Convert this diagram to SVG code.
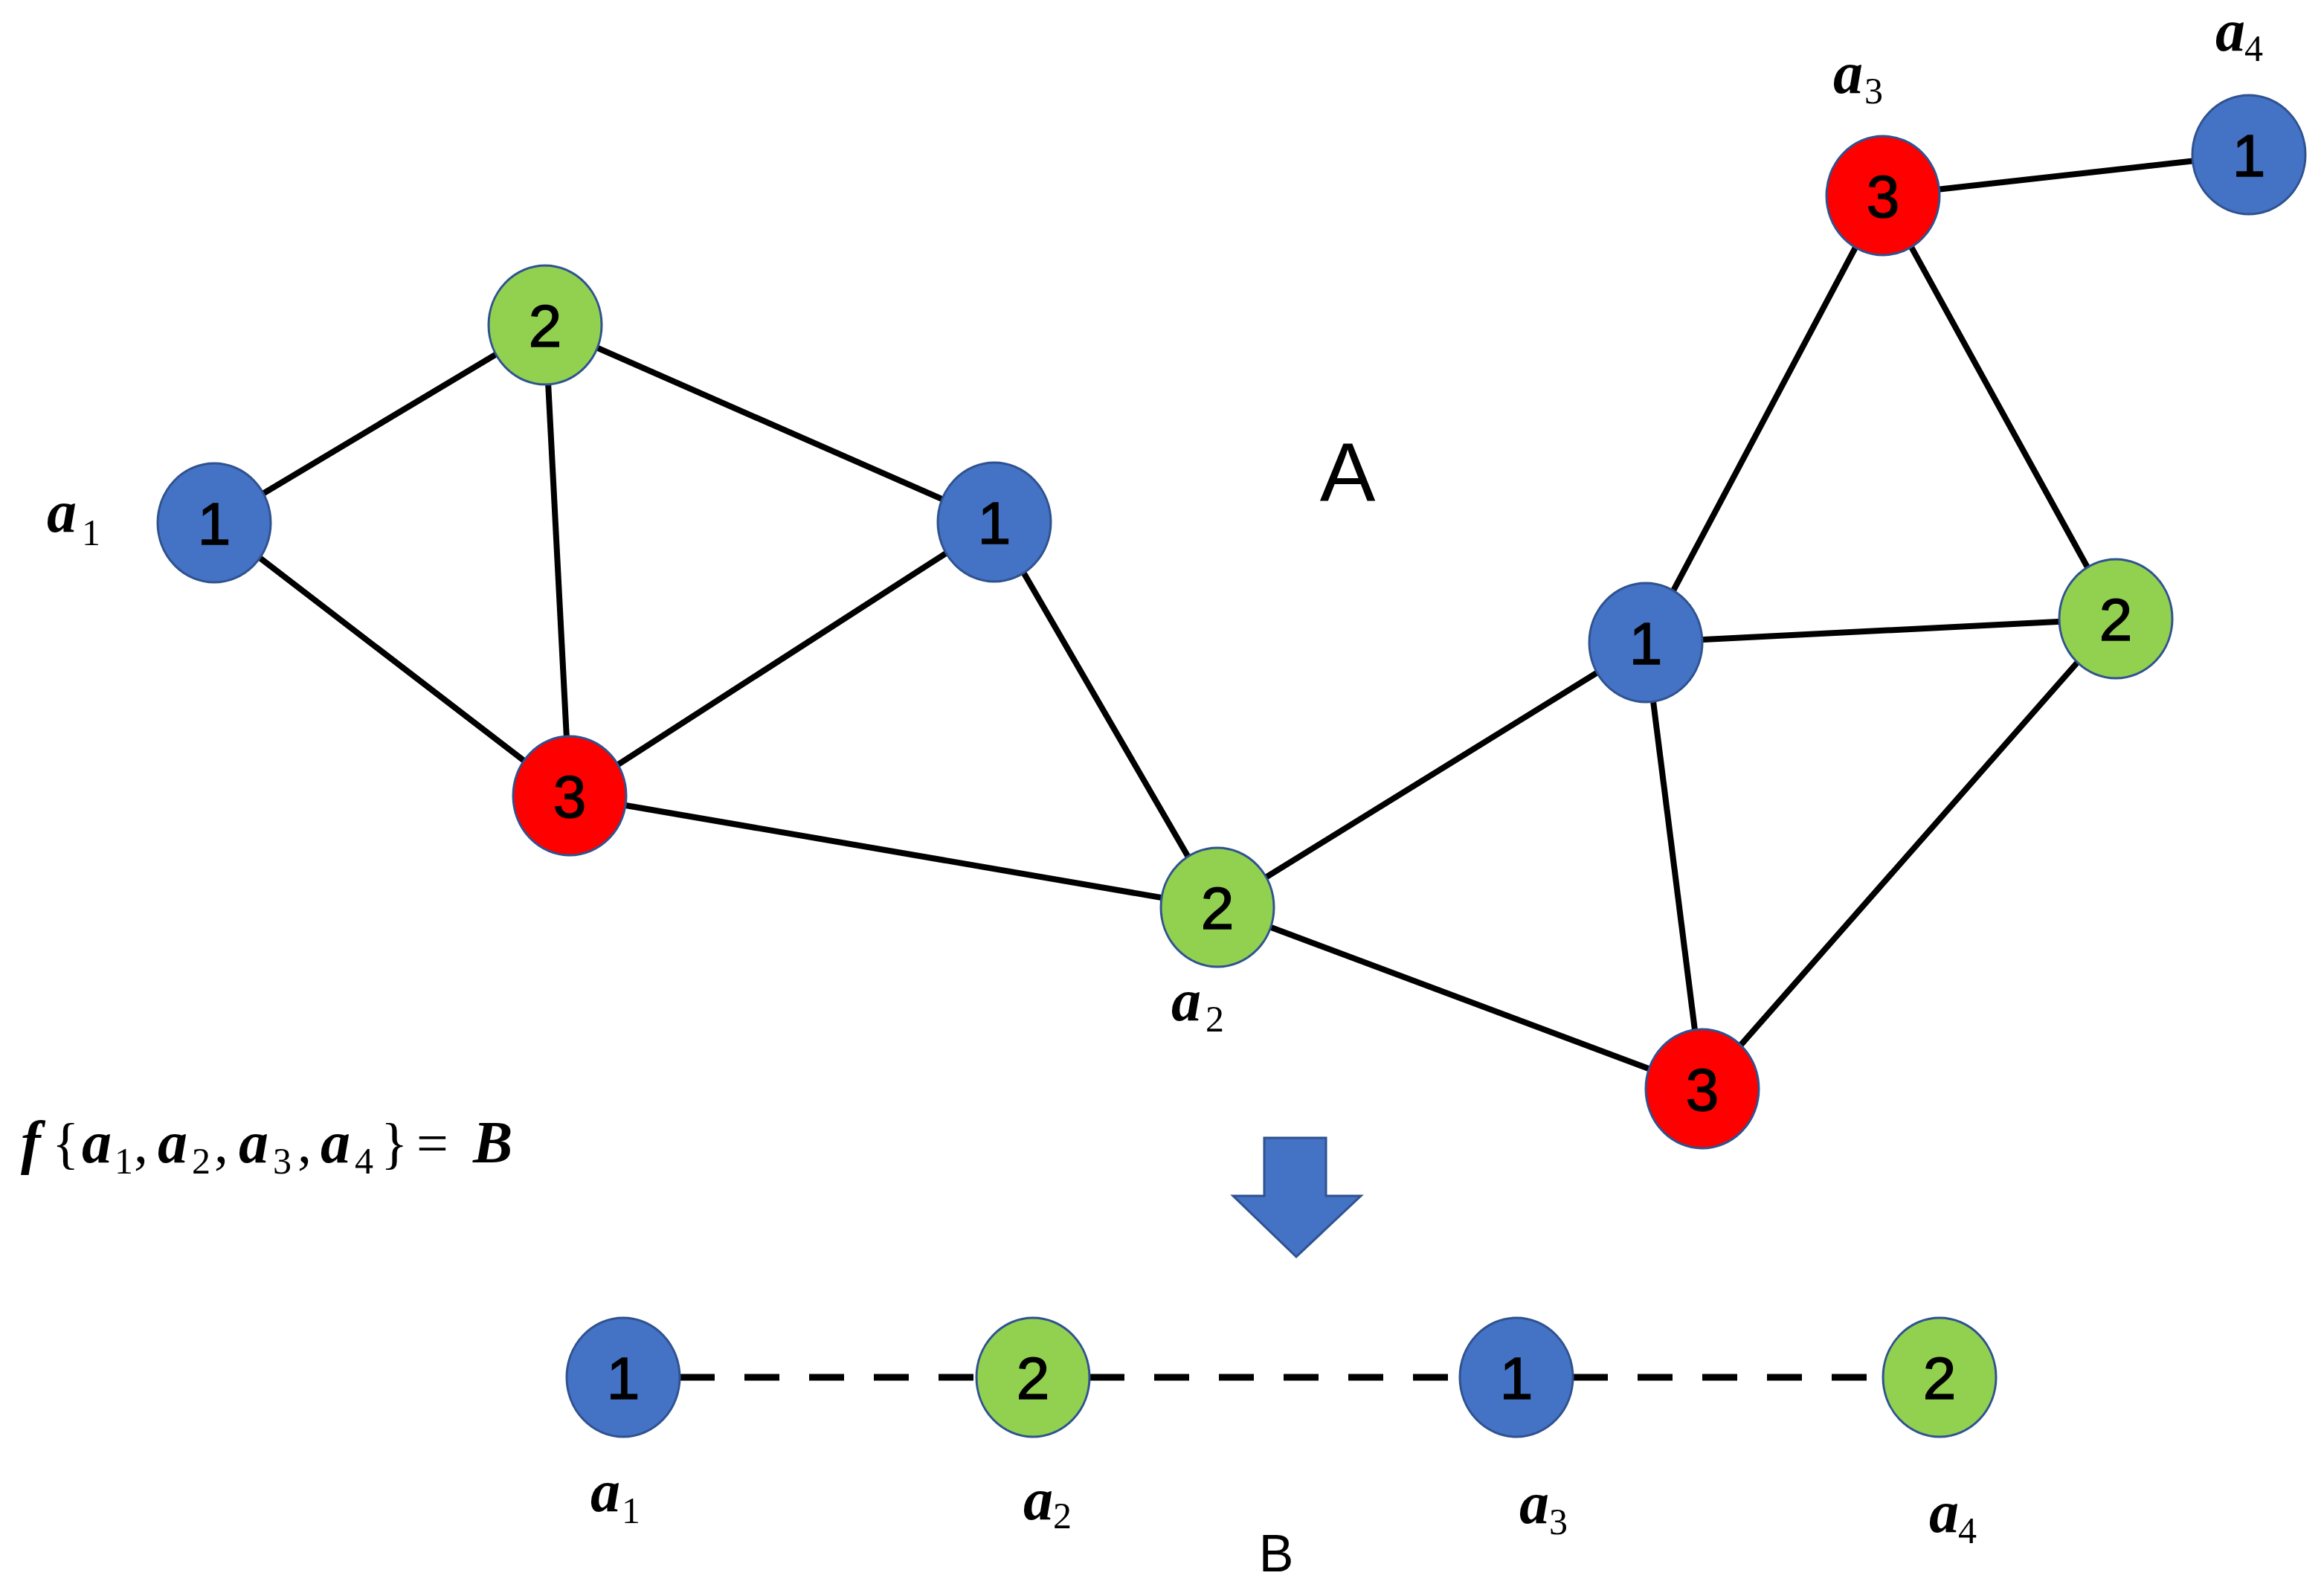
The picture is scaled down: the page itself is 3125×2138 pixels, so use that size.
<svg xmlns="http://www.w3.org/2000/svg" width="3125" height="2138" viewBox="0 0 3125 2138">
<style>
.n{stroke:#2F528F;stroke-width:3}
.blue{fill:#4472C4}
.green{fill:#92D050}
.red{fill:#FF0000}
.num{font-family:"Liberation Sans",Arial,sans-serif;font-size:80px;fill:#000;stroke:#000;stroke-width:1.5;text-anchor:middle}
.e{stroke:#000;stroke-width:8;fill:none}
.d{stroke:#000;stroke-width:9;fill:none;stroke-dasharray:47 40}
.lab{font-family:"Liberation Serif","Times New Roman",serif;fill:#000}
.it{font-style:italic;font-weight:bold;font-size:80px}
.sub{font-size:50px}
.big{font-family:"Liberation Sans",Arial,sans-serif;fill:#000;text-anchor:middle}
</style>
<rect width="3125" height="2138" fill="#fff"/>
<g id="connectors">
<line class="e" x1="288" y1="703" x2="733" y2="437"/>
<line class="e" x1="288" y1="703" x2="766" y2="1070"/>
<line class="e" x1="733" y1="437" x2="766" y2="1070"/>
<line class="e" x1="733" y1="437" x2="1337" y2="702"/>
<line class="e" x1="766" y1="1070" x2="1337" y2="702"/>
<line class="e" x1="1337" y1="702" x2="1637" y2="1220"/>
<line class="e" x1="766" y1="1070" x2="1637" y2="1220"/>
<line class="e" x1="1637" y1="1220" x2="2213" y2="864"/>
<line class="e" x1="1637" y1="1220" x2="2289" y2="1464"/>
<line class="e" x1="2213" y1="864" x2="2532" y2="263"/>
<line class="e" x1="2213" y1="864" x2="2845" y2="832"/>
<line class="e" x1="2213" y1="864" x2="2289" y2="1464"/>
<line class="e" x1="2532" y1="263" x2="2845" y2="832"/>
<line class="e" x1="2532" y1="263" x2="3024" y2="208"/>
<line class="e" x1="2845" y1="832" x2="2289" y2="1464"/>
<line class="d" x1="914" y1="1852" x2="1313" y2="1852"/>
<line class="d" x1="1465" y1="1852" x2="1963" y2="1852"/>
<line class="d" x1="2115" y1="1852" x2="2532" y2="1852"/>
</g>
<g id="node-a1"><ellipse class="n blue" cx="288" cy="703" rx="76" ry="80"/><text class="num" x="288" y="732">1</text></g>
<g id="node-g1"><ellipse class="n green" cx="733" cy="437" rx="76" ry="80"/><text class="num" x="733" y="466">2</text></g>
<g id="node-r1"><ellipse class="n red" cx="766" cy="1070" rx="76" ry="80"/><text class="num" x="766" y="1099">3</text></g>
<g id="node-b2"><ellipse class="n blue" cx="1337" cy="702" rx="76" ry="80"/><text class="num" x="1337" y="731">1</text></g>
<g id="node-a2"><ellipse class="n green" cx="1637" cy="1220" rx="76" ry="80"/><text class="num" x="1637" y="1249">2</text></g>
<g id="node-b3"><ellipse class="n blue" cx="2213" cy="864" rx="76" ry="80"/><text class="num" x="2213" y="893">1</text></g>
<g id="node-a3"><ellipse class="n red" cx="2532" cy="263" rx="76" ry="80"/><text class="num" x="2532" y="292">3</text></g>
<g id="node-a4"><ellipse class="n blue" cx="3024" cy="208" rx="76" ry="80"/><text class="num" x="3024" y="237">1</text></g>
<g id="node-g3"><ellipse class="n green" cx="2845" cy="832" rx="76" ry="80"/><text class="num" x="2845" y="861">2</text></g>
<g id="node-r3"><ellipse class="n red" cx="2289" cy="1464" rx="76" ry="80"/><text class="num" x="2289" y="1493">3</text></g>
<g id="node-B1"><ellipse class="n blue" cx="838" cy="1852" rx="76" ry="80"/><text class="num" x="838" y="1881">1</text></g>
<g id="node-B2"><ellipse class="n green" cx="1389" cy="1852" rx="76" ry="80"/><text class="num" x="1389" y="1881">2</text></g>
<g id="node-B3"><ellipse class="n blue" cx="2039" cy="1852" rx="76" ry="80"/><text class="num" x="2039" y="1881">1</text></g>
<g id="node-B4"><ellipse class="n green" cx="2608" cy="1852" rx="76" ry="80"/><text class="num" x="2608" y="1881">2</text></g>
<g id="labels">
<text class="lab"><tspan class="it" x="63" y="715">a</tspan><tspan class="sub" x="110" y="733">1</tspan></text>
<text class="lab"><tspan class="it" x="1575" y="1372">a</tspan><tspan class="sub" x="1621" y="1387">2</tspan></text>
<text class="lab"><tspan class="it" x="2465" y="125">a</tspan><tspan class="sub" x="2507" y="139">3</tspan></text>
<text class="lab"><tspan class="it" x="2979" y="68">a</tspan><tspan class="sub" x="3018" y="82">4</tspan></text>
<text class="lab"><tspan class="it" x="794" y="2032">a</tspan><tspan class="sub" x="836" y="2048">1</tspan></text>
<text class="lab"><tspan class="it" x="1376" y="2043">a</tspan><tspan class="sub" x="1416" y="2055">2</tspan></text>
<text class="lab"><tspan class="it" x="2043" y="2048">a</tspan><tspan class="sub" x="2083" y="2063">3</tspan></text>
<text class="lab"><tspan class="it" x="2594" y="2060">a</tspan><tspan class="sub" x="2633" y="2075">4</tspan></text>
<text class="big" x="1812" y="673" font-size="112">A</text>
<text class="big" x="1716" y="2113" font-size="70">B</text>
<text class="lab" font-size="76"><tspan class="it" x="28" y="1563">f</tspan><tspan x="70" y="1563">{</tspan><tspan class="it" x="110" y="1563">a</tspan><tspan class="sub" x="154" y="1578">1</tspan><tspan x="180" y="1563">,</tspan><tspan class="it" x="212" y="1563">a</tspan><tspan class="sub" x="258" y="1578">2</tspan><tspan x="288" y="1563">,</tspan><tspan class="it" x="321" y="1563">a</tspan><tspan class="sub" x="367" y="1578">3</tspan><tspan x="400" y="1563">,</tspan><tspan class="it" x="431" y="1563">a</tspan><tspan class="sub" x="477" y="1578">4</tspan><tspan x="512" y="1563">}</tspan><tspan x="560" y="1563">=</tspan><tspan class="it" x="636" y="1563">B</tspan></text>
</g>
<g id="arrow"><polygon points="1700,1530 1783,1530 1783,1608 1830,1608 1743,1690 1658,1608 1700,1608" fill="#4472C4" stroke="#2F528F" stroke-width="3"/></g>
</svg>
